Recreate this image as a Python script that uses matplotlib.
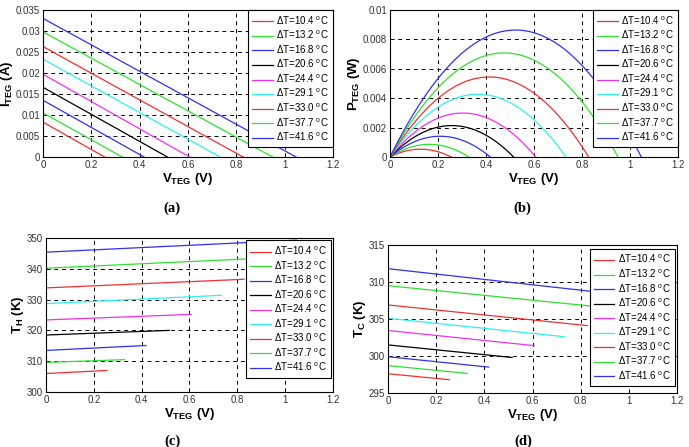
import numpy as np
import matplotlib
matplotlib.use("Agg")
import matplotlib.pyplot as plt

plt.rcParams['font.family'] = ['Liberation Sans', 'DejaVu Sans']
plt.rcParams['mathtext.fontset'] = 'custom'
plt.rcParams['mathtext.rm'] = 'Liberation Sans'
plt.rcParams['mathtext.bf'] = 'Liberation Sans:bold'
plt.rcParams['mathtext.it'] = 'Liberation Sans:italic'

# ---- data ----
delta_T = [10.4, 13.2, 16.8, 20.6, 24.4, 29.1, 33.0, 37.7, 41.6]
V_oc = [0.255, 0.328, 0.418, 0.515, 0.607, 0.733, 0.828, 0.950, 1.047]
I_sc = [0.0083, 0.0105, 0.0135, 0.0166, 0.0197, 0.0233, 0.0263, 0.0298, 0.0330]
T_H_start = [306.0, 309.6, 313.5, 318.5, 323.4, 328.7, 333.8, 340.2, 345.4]
T_H_end = [307.0, 310.5, 315.1, 320.0, 325.2, 331.4, 336.6, 343.6, 349.3]
T_C_start = [297.6, 298.7, 299.9, 301.5, 303.45, 305.1, 306.9, 309.5, 311.8]
T_C_end = [296.8, 297.65, 298.5, 299.8, 301.4, 302.6, 304.1, 306.4, 308.0]
colors = ['#f03030', '#30e030', '#3030f0', '#000000', '#f030f0', '#30f0f0',
          '#f03030', '#30e030', '#3030f0']
x_ticks = [0, 0.2, 0.4, 0.6, 0.8, 1.0, 1.2]
x_tick_labels = ['0', '0.2', '0.4', '0.6', '0.8', '1', '1.2']

labels = [r'$\Delta$T=%.1f $^{\rm o}$C' % t for t in delta_T]

W, H = 689, 447
fig = plt.figure(figsize=(W / 100, H / 100), dpi=100)

def ax_px(l, t, r, b):
    return fig.add_axes([l / W, (H - b) / H, (r - l) / W, (b - t) / H])

def style(ax, yticks, ylabels, ylim, ylabel, legend_anchor=(1.0, 1.0)):
    ax.set_xlim(0, 1.2)
    ax.set_ylim(*ylim)
    ax.set_xticks(x_ticks)
    ax.set_xticklabels(x_tick_labels)
    ax.set_yticks(yticks)
    ax.set_yticklabels(ylabels)
    ax.tick_params(direction='in', labelsize=7, length=3, width=0.6, pad=2,
                   labelcolor='#333333')
    ax.grid(True, color='black', linestyle=(0, (4, 4)), linewidth=0.7)
    for s in ax.spines.values():
        s.set_linewidth(0.8)
    ax.set_xlabel(r'$\mathbf{V_{TEG}}$ $\mathbf{(V)}$', fontsize=9.5, labelpad=1)
    ax.set_ylabel(ylabel, fontsize=9.5, labelpad=1)
    leg = ax.legend(loc='upper right', bbox_to_anchor=legend_anchor,
                    fontsize=7, handlelength=2.1,
                    labelspacing=0.22, borderpad=0.45, handletextpad=0.35,
                    fancybox=False, edgecolor='black', framealpha=1,
                    borderaxespad=0.0)
    leg.get_frame().set_linewidth(0.8)

# (a)
axa = ax_px(43, 10, 333, 157)
for i in range(len(delta_T)):
    v = np.array([0, V_oc[i]])
    axa.plot(v, I_sc[i] * (1 - v / V_oc[i]), color=colors[i], lw=0.9, label=labels[i])
yt = [0, 0.005, 0.01, 0.015, 0.02, 0.025, 0.03, 0.035]
style(axa, yt, ['0', '0.005', '0.01', '0.015', '0.02', '0.025', '0.03', '0.035'],
      (0, 0.035), r'$\mathbf{I_{TEG}}$ $\mathbf{(A)}$')

# (b)
axb = ax_px(390, 10, 678, 157)
for i in range(len(delta_T)):
    v = np.linspace(0, V_oc[i], 60)
    axb.plot(v, v * I_sc[i] * (1 - v / V_oc[i]), color=colors[i], lw=0.9, label=labels[i])
yt = [0, 0.002, 0.004, 0.006, 0.008, 0.01]
style(axb, yt, ['0', '0.002', '0.004', '0.006', '0.008', '0.01'],
      (0, 0.01), r'$\mathbf{P_{TEG}}$ $\mathbf{(W)}$')

# (c)
axc = ax_px(46, 238, 333, 392)
for i in range(len(delta_T)):
    axc.plot([0, V_oc[i]], [T_H_start[i], T_H_end[i]], color=colors[i], lw=0.9, label=labels[i])
yt = [300, 310, 320, 330, 340, 350]
style(axc, yt, [str(t) for t in yt], (300, 350), r'$\mathbf{T_H}$ $\mathbf{(K)}$',
      legend_anchor=(0.993, 0.985))

# (d)
axd = ax_px(388, 245, 677, 393)
for i in range(len(delta_T)):
    axd.plot([0, V_oc[i]], [T_C_start[i], T_C_end[i]], color=colors[i], lw=0.9, label=labels[i])
yt = [295, 300, 305, 310, 315]
style(axd, yt, [str(t) for t in yt], (295, 315), r'$\mathbf{T_C}$ $\mathbf{(K)}$',
      legend_anchor=(0.993, 0.975))

for txt, x, y in [('(a)', 172, 208), ('(b)', 522, 208), ('(c)', 173, 441), ('(d)', 523, 441)]:
    fig.text(x / W, 1 - y / H, txt, ha='center', va='center', fontsize=10.5,
             fontweight='bold', family='Liberation Serif')

fig.savefig('out.png', dpi=100)
